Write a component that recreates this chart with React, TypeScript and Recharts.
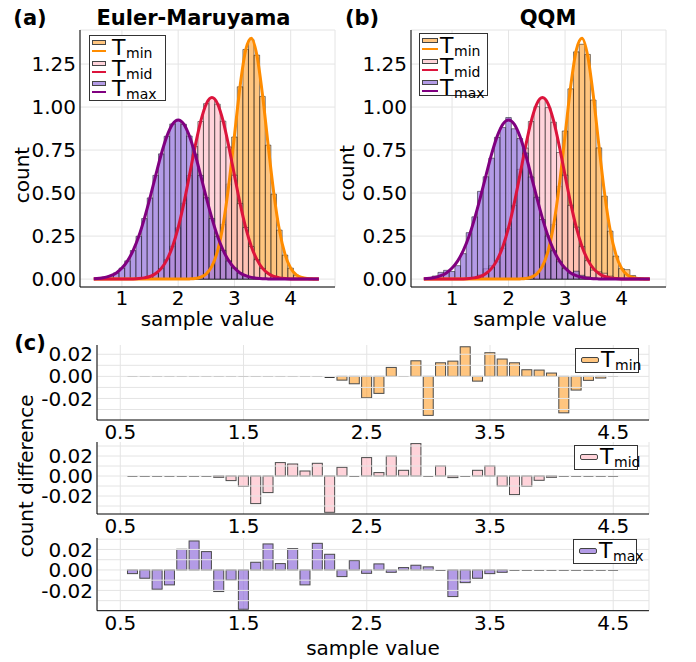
import React from 'react';
import { ComposedChart, Bar, Line, XAxis, YAxis, CartesianGrid, ReferenceLine } from 'recharts';

const FONT = '"DejaVu Sans", Verdana, sans-serif';

// curve sample points (also used as x rows of the histogram charts)
const curveX = [0.5, 0.6, 0.7, 0.8, 0.9, 1.0, 1.1, 1.2, 1.3, 1.4, 1.5, 1.6, 1.7, 1.8, 1.9, 2.0, 2.1, 2.2, 2.3, 2.4, 2.5, 2.6, 2.7, 2.8, 2.9, 3.0, 3.1, 3.2, 3.3, 3.4, 3.5, 3.6, 3.7, 3.8, 3.9, 4.0, 4.1, 4.2, 4.3, 4.4, 4.5];
const tminCurve = [0, 0, 0, 0, 0, 0, 0, 0, 0, 0, 0, 0, 0, 0, 0, 0, 0, 0.001, 0.003, 0.011, 0.030, 0.075, 0.164, 0.319, 0.549, 0.834, 1.121, 1.332, 1.400, 1.299, 1.067, 0.775, 0.497, 0.282, 0.142, 0.063, 0.025, 0.009, 0.003, 0.001, 0];
const tmidCurve = [0, 0, 0, 0, 0, 0, 0, 0.001, 0.003, 0.007, 0.015, 0.032, 0.062, 0.113, 0.190, 0.299, 0.440, 0.603, 0.770, 0.917, 1.019, 1.055, 1.019, 0.917, 0.770, 0.603, 0.440, 0.299, 0.190, 0.113, 0.062, 0.032, 0.015, 0.007, 0.003, 0.001, 0, 0, 0, 0, 0];
const tmaxCurve = [0.002, 0.005, 0.010, 0.020, 0.036, 0.064, 0.106, 0.167, 0.249, 0.353, 0.473, 0.602, 0.727, 0.831, 0.901, 0.925, 0.901, 0.831, 0.727, 0.602, 0.473, 0.353, 0.249, 0.167, 0.106, 0.064, 0.036, 0.020, 0.010, 0.005, 0.002, 0.001, 0, 0, 0, 0, 0, 0, 0, 0, 0];

// histogram bins, width 0.1, centres 0.6 .. 4.5
const bins = [0.6, 0.7, 0.8, 0.9, 1.0, 1.1, 1.2, 1.3, 1.4, 1.5, 1.6, 1.7, 1.8, 1.9, 2.0, 2.1, 2.2, 2.3, 2.4, 2.5, 2.6, 2.7, 2.8, 2.9, 3.0, 3.1, 3.2, 3.3, 3.4, 3.5, 3.6, 3.7, 3.8, 3.9, 4.0, 4.1, 4.2, 4.3, 4.4, 4.5];

const tminEM = [0, 0, 0, 0, 0, 0, 0, 0, 0, 0, 0, 0, 0, 0, 0, 0, 0.002, 0.004, 0.011, 0.028, 0.072, 0.168, 0.318, 0.553, 0.826, 1.118, 1.335, 1.392, 1.302, 1.062, 0.779, 0.494, 0.285, 0.140, 0.064, 0.022, 0.009, 0.003, 0.001, 0];
const tmidEM = [0, 0, 0, 0, 0, 0, 0.001, 0.003, 0.007, 0.015, 0.032, 0.061, 0.113, 0.191, 0.298, 0.441, 0.602, 0.771, 0.916, 1.020, 1.052, 1.017, 0.918, 0.768, 0.604, 0.439, 0.300, 0.189, 0.113, 0.062, 0.032, 0.015, 0.007, 0.003, 0.001, 0, 0, 0, 0, 0];
const tmaxEM = [0.005, 0.010, 0.020, 0.036, 0.064, 0.106, 0.166, 0.249, 0.352, 0.472, 0.603, 0.728, 0.830, 0.902, 0.924, 0.900, 0.832, 0.726, 0.603, 0.473, 0.352, 0.249, 0.167, 0.106, 0.064, 0.036, 0.020, 0.010, 0.005, 0.002, 0.001, 0, 0, 0, 0, 0, 0, 0, 0, 0];

const tminQQM = [0, 0, 0, 0, 0, 0, 0, 0, 0, 0, 0, 0, 0, 0, 0, 0, 0.003, 0.007, 0.018, 0.047, 0.087, 0.160, 0.318, 0.539, 0.861, 1.106, 1.321, 1.365, 1.306, 1.041, 0.763, 0.482, 0.279, 0.134, 0.061, 0.055, 0.021, 0.007, 0.003, 0];
const tmidQQM = [0, 0, 0, 0, 0, 0, 0.001, 0.004, 0.012, 0.025, 0.060, 0.078, 0.100, 0.179, 0.293, 0.428, 0.638, 0.762, 0.916, 1.002, 1.049, 0.997, 0.912, 0.736, 0.604, 0.429, 0.302, 0.189, 0.107, 0.052, 0.042, 0.034, 0.017, 0.007, 0.002, 0, 0, 0, 0, 0];
const tmaxQQM = [0.009, 0.018, 0.039, 0.051, 0.044, 0.078, 0.148, 0.270, 0.362, 0.510, 0.595, 0.703, 0.824, 0.881, 0.939, 0.874, 0.817, 0.733, 0.594, 0.476, 0.346, 0.251, 0.165, 0.101, 0.061, 0.036, 0.046, 0.022, 0.013, 0.006, 0.003, 0, 0, 0, 0, 0, 0, 0, 0, 0];

// panel (c): count difference per bin
const tminDiff = [0, 0, 0, 0, 0, 0, 0, 0, 0, 0, 0, 0, 0, 0, 0, 0, -0.0006, -0.0034, -0.0067, -0.0194, -0.0154, 0.0081, 0, 0.0141, -0.0353, 0.0123, 0.0138, 0.0268, -0.0043, 0.0214, 0.0157, 0.0123, 0.006, 0.0057, 0.003, -0.033, -0.0124, -0.0036, -0.0015, 0];
const tmidDiff = [0, 0, 0, 0, 0, 0, 0, -0.0013, -0.0046, -0.0103, -0.0276, -0.0166, 0.0134, 0.012, 0.005, 0.0127, -0.0363, 0.0087, 0, 0.0184, 0.0034, 0.02, 0.0057, 0.0324, 0, 0.01, -0.0016, 0, 0.0057, 0.01, -0.01, -0.0186, -0.0103, -0.0043, -0.0013, 0, 0, 0, 0, 0];
const tmaxDiff = [-0.0036, -0.0081, -0.0188, -0.0146, 0.0202, 0.0283, 0.0179, -0.0211, -0.0098, -0.0384, 0.0075, 0.0254, 0.0062, 0.0208, -0.0146, 0.026, 0.0153, -0.0065, 0.0091, -0.0033, 0.0059, -0.0023, 0.0023, 0.0046, 0.003, 0, -0.026, -0.0124, -0.0081, -0.0036, -0.0023, 0, 0, 0, 0, 0, 0, 0, 0, 0];

const histTicksX = [1, 2, 3, 4];
const histTicksY = [0, 0.25, 0.5, 0.75, 1, 1.25];
const diffTicksX = [0.5, 1.5, 2.5, 3.5, 4.5];
const diffTicksY = [-0.02, 0, 0.02];
const diffGridY = [-0.03, -0.02, -0.01, 0, 0.01, 0.02, 0.03];

const SERIES = {
  tmin: { label: 'min', fill: 'rgba(255,140,0,0.5)', line: '#ff8c00' },
  tmid: { label: 'mid', fill: 'rgba(255,192,203,0.7)', line: '#dc143c' },
  tmax: { label: 'max', fill: 'rgba(147,112,219,0.7)', line: '#800080' },
};

const emRows = curveX.map((x, i) => ({
  x,
  tminC: tminCurve[i],
  tmidC: tmidCurve[i],
  tmaxC: tmaxCurve[i],
  tminH: i > 0 ? tminEM[i - 1] : null,
  tmidH: i > 0 ? tmidEM[i - 1] : null,
  tmaxH: i > 0 ? tmaxEM[i - 1] : null,
}));
const qqmRows = curveX.map((x, i) => ({
  x,
  tminC: tminCurve[i],
  tmidC: tmidCurve[i],
  tmaxC: tmaxCurve[i],
  tminH: i > 0 ? tminQQM[i - 1] : null,
  tmidH: i > 0 ? tmidQQM[i - 1] : null,
  tmaxH: i > 0 ? tmaxQQM[i - 1] : null,
}));

const tickStyle = { fill: '#000', fontSize: 20, fontFamily: FONT };
const GRID = '#e4e4e4';

function HistPanel({ left, rows, domainX, barW }: { left: number; rows: any[]; domainX: [number, number]; barW: number }) {
  return (
    <div style={{ position: 'absolute', left, top: 0 }}>
      <ComposedChart width={340} height={330} data={rows} margin={{ top: 30, right: 5, bottom: 0, left: 0 }}
        barGap={-barW} barSize={barW} style={{ fontFamily: FONT }}>
        <CartesianGrid stroke={GRID} />
        <XAxis dataKey="x" type="number" domain={domainX} allowDataOverflow ticks={histTicksX} height={43} interval={0}
          tick={tickStyle} tickLine={false} tickSize={2} tickMargin={2} axisLine={{ stroke: '#000' }} />
        <YAxis type="number" domain={[-0.046, 1.448]} allowDataOverflow ticks={histTicksY} width={80} interval={0}
          tickFormatter={(v: number) => v.toFixed(2)} tick={tickStyle} tickLine={false} tickSize={2} tickMargin={2}
          axisLine={{ stroke: '#000' }} />
        {(['tmin', 'tmid', 'tmax'] as const).map((k) => (
          <Bar key={k} dataKey={k + 'H'} fill={SERIES[k].fill} stroke="#000" strokeOpacity={0.6} strokeWidth={0.8}
            barSize={barW} isAnimationActive={false} />
        ))}
        {(['tmin', 'tmid', 'tmax'] as const).map((k) => (
          <Line key={k} dataKey={k + 'C'} type="monotone" stroke={SERIES[k].line} strokeWidth={3} dot={false}
            activeDot={false} isAnimationActive={false} />
        ))}
      </ComposedChart>
    </div>
  );
}

const DiffShape = (props: any) => {
  const { x, y, width, height, fill } = props;
  if (x == null || y == null || isNaN(y)) return null;
  const h = Math.abs(height || 0);
  if (h < 0.7) {
    const yy = Math.round(y) + 0.5;
    return <line x1={x} x2={x + width} y1={yy} y2={yy} stroke="#3a3a3a" strokeWidth={1} />;
  }
  const top = Math.min(y, y + height);
  return <rect x={x} y={top} width={width} height={h} fill={fill} stroke="#4a4a4a" strokeWidth={1} />;
};

function DiffPanel({ top, plotH, domainY, values, k }: { top: number; plotH: number; domainY: [number, number]; values: number[]; k: 'tmin' | 'tmid' | 'tmax' }) {
  const rows = bins.map((x, i) => ({ x, d: values[i] }));
  return (
    <div style={{ position: 'absolute', left: 0, top }}>
      <ComposedChart width={655} height={plotH + 30} data={rows} margin={{ top: 5, right: 6, bottom: 0, left: 0 }}
        style={{ fontFamily: FONT }}>
        <CartesianGrid stroke={GRID} horizontal={false} />
        {diffGridY.map((v) => (
          <ReferenceLine key={v} y={v} stroke={GRID} />
        ))}
        <XAxis dataKey="x" type="number" domain={[0.311, 4.79]} allowDataOverflow ticks={diffTicksX} height={25} interval={0}
          tickFormatter={(v: number) => v.toFixed(1)} tick={tickStyle} tickLine={false} tickSize={2} tickMargin={3}
          axisLine={{ stroke: '#000' }} />
        <YAxis type="number" domain={domainY} allowDataOverflow ticks={diffTicksY} width={97} interval={0}
          tickFormatter={(v: number) => v.toFixed(2)} tick={tickStyle} tickLine={false} tickSize={2} tickMargin={2}
          axisLine={{ stroke: '#000' }} />
        <Bar dataKey="d" fill={SERIES[k].fill} barSize={10} shape={DiffShape} isAnimationActive={false} />
      </ComposedChart>
    </div>
  );
}

function Txt({ x, y, size = 20, bold = false, rotate = 0, children }: any) {
  return (
    <div style={{
      position: 'absolute', left: x, top: y, fontSize: size, fontWeight: bold ? 'bold' : 'normal', lineHeight: 0.9,
      whiteSpace: 'nowrap', transform: `translate(-50%, -50%) rotate(${rotate}deg)`, fontFamily: FONT, color: '#000',
    }}>{children}</div>
  );
}

// "T" with a subscript, laid out as two separate boxes so they do not overlap
function Label({ sub, left, top }: { sub: string; left: number; top: number }) {
  return (
    <>
      <div style={{ position: 'absolute', left, top, fontSize: 22, lineHeight: '17px', fontFamily: FONT, whiteSpace: 'nowrap' }}>T</div>
      <div style={{ position: 'absolute', left: left + 14, top: top + 9, fontSize: 14, lineHeight: '11px', fontFamily: FONT, whiteSpace: 'nowrap' }}>{sub}</div>
    </>
  );
}

function HistLegend({ left, top, width, height, patchX, patchW, textX, rowY, gap }: any) {
  return (
    <div style={{ position: 'absolute', left, top, width, height, border: '1px solid #333', background: '#fff', boxSizing: 'border-box' }}>
      {(['tmin', 'tmid', 'tmax'] as const).map((k, i) => (
        <React.Fragment key={k}>
          <div style={{ position: 'absolute', left: patchX, top: rowY + i * gap, width: patchW, height: 5, background: SERIES[k].fill, border: '1px solid #444', boxSizing: 'border-box' }} />
          <div style={{ position: 'absolute', left: patchX, top: rowY + i * gap + 10, width: patchW, height: 2, background: SERIES[k].line }} />
          <Label sub={SERIES[k].label} left={textX} top={rowY + i * gap - 1} />
        </React.Fragment>
      ))}
    </div>
  );
}

function DiffLegend({ left, top, k }: any) {
  return (
    <div style={{ position: 'absolute', left, top, width: 64, height: 25, border: '1px solid #333', background: '#fff', boxSizing: 'border-box' }}>
      <div style={{ position: 'absolute', left: 5, top: 8, width: 18, height: 6, background: SERIES[k].fill, border: '1px solid #444', borderRadius: 2, boxSizing: 'border-box' }} />
      <Label sub={SERIES[k].label} left={25} top={2} />
    </div>
  );
}

export default function App() {
  return (
    <div style={{ position: 'absolute', left: 0, top: 0, width: 696, height: 662, background: '#fff', fontFamily: FONT, overflow: 'hidden' }}>
      <HistPanel left={0} rows={emRows} domainX={[0.255, 4.787]} barW={5.5} />
      <HistPanel left={331} rows={qqmRows} domainX={[0.273, 4.787]} barW={5.6} />

      <DiffPanel top={340} plotH={75} domainY={[-0.0395, 0.0284]} values={tminDiff} k="tmin" />
      <DiffPanel top={436.7} plotH={72} domainY={[-0.038, 0.034]} values={tmidDiff} k="tmid" />
      <DiffPanel top={533.3} plotH={72.7} domainY={[-0.0398, 0.0312]} values={tmaxDiff} k="tmax" />

      <HistLegend left={89} top={35} width={77} height={66} patchX={2} patchW={14} textX={22} rowY={4} gap={20.5} />
      <HistLegend left={419} top={33} width={69} height={63} patchX={2} patchW={16} textX={20} rowY={4} gap={20.8} />
      <DiffLegend left={575} top={348} k="tmin" />
      <DiffLegend left={574} top={445} k="tmid" />
      <DiffLegend left={573} top={539} k="tmax" />

      <Txt x={30} y={18} size={21} bold>(a)</Txt>
      <Txt x={193.5} y={18} size={21} bold>Euler-Maruyama</Txt>
      <Txt x={362} y={18} size={21} bold>(b)</Txt>
      <Txt x={548} y={18} size={21} bold>QQM</Txt>
      <Txt x={30} y={343} size={21} bold>(c)</Txt>
      <Txt x={21.7} y={174.5} rotate={-90}>count</Txt>
      <Txt x={346.7} y={172.5} rotate={-90}>count</Txt>
      <Txt x={207.5} y={319}>sample value</Txt>
      <Txt x={540} y={319}>sample value</Txt>
      <Txt x={25.5} y={476} rotate={-90}>count difference</Txt>
      <Txt x={373} y={648}>sample value</Txt>
    </div>
  );
}
